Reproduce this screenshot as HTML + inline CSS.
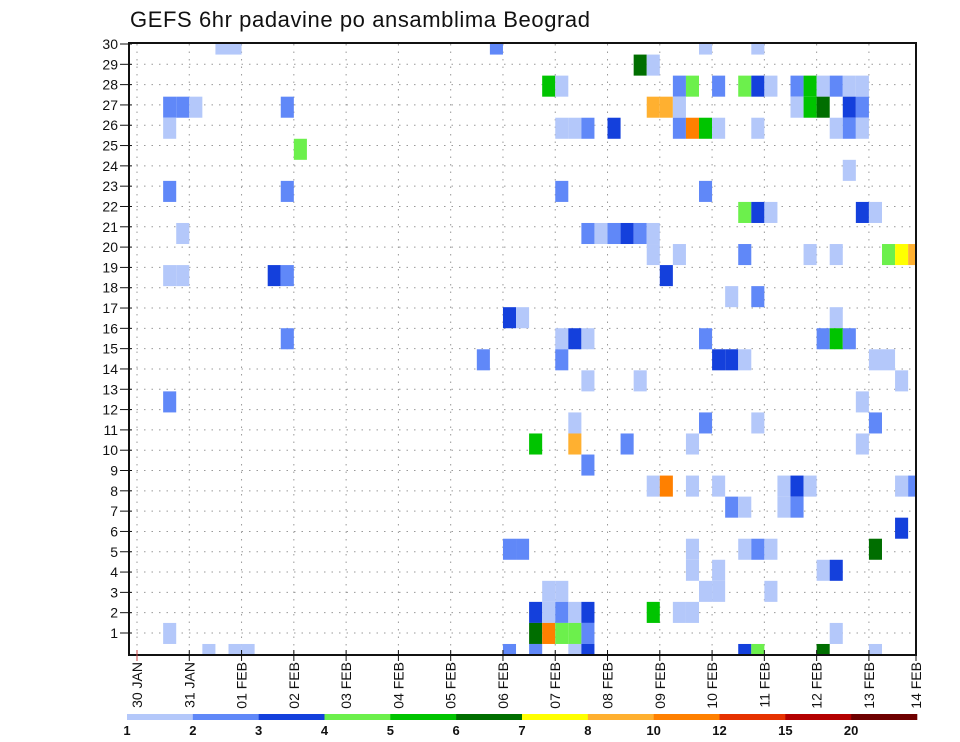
<!DOCTYPE html>
<html><head><meta charset="utf-8">
<style>
html,body{margin:0;padding:0;background:#fff;}
svg{display:block;font-family:"Liberation Sans",sans-serif;}
</style></head>
<body>
<svg id="chart" width="960" height="742" viewBox="0 0 960 742">
<text x="130" y="27" font-size="22" textLength="460" fill="#111">GEFS 6hr padavine po ansamblima Beograd</text>
<clipPath id="plotclip"><rect x="129" y="43" width="787" height="612"/></clipPath>
<g id="grid"></g>
<g id="cells" clip-path="url(#plotclip)"></g>
<rect x="129" y="43" width="787" height="612" fill="none" stroke="#111" stroke-width="2"/>
<g id="yaxis"></g>
<g id="xaxis"></g>
<g id="legend"></g>
</svg>
<script>
// data: 6-hourly step index (0 = 30 JAN 00Z), ensemble member row, precipitation (mm)
const cellStep = [6,7,2,3,4,11,2,12,2,11,3,2,3,10,11,11,2,2,5,7,8,
27,38,39,31,32,39,40,32,33,34,36,32,34,35,36,37,38,39,39,40,28,29,32,33,34,26,32,34,38,33,30,33,37,34,39,40,28,29,31,32,30,31,32,33,34,39,30,31,32,33,34,28,30,33,34,
43,47,41,42,44,46,47,48,50,51,52,53,54,55,41,50,51,52,54,55,41,42,43,44,47,53,54,55,54,43,46,47,48,55,56,41,46,51,53,57,58,59,45,47,53,43,52,53,54,44,45,46,56,57,58,55,43,47,56,42,55,42,44,49,50,51,58,59,45,46,49,50,58,42,46,47,48,56,42,44,52,53,43,44,48,41,42,53,46,47,52,56];
const cellMember = [29,29,26,26,26,26,25,24,22,22,20,18,18,18,18,15,12,1,0,0,0,
29,28,28,27,27,26,26,25,25,25,25,22,20,20,20,20,20,20,19,18,16,16,15,15,15,14,14,13,13,11,10,10,10,9,8,8,5,5,3,3,2,2,2,2,2,2,1,1,1,1,1,0,0,0,0,
29,29,27,27,27,27,27,27,27,27,27,27,27,27,26,26,26,26,26,26,25,25,25,25,25,25,25,25,23,22,21,21,21,21,21,19,19,19,19,19,19,19,17,17,16,15,15,15,15,14,14,14,14,14,13,12,11,11,11,10,10,8,8,8,8,8,8,8,7,7,7,7,6,5,5,5,5,5,4,4,4,4,3,3,3,2,2,1,0,0,0,0];
const cellValue = [1.5,1.5,2.5,2.5,1.5,2.5,1.5,4.5,2.5,2.5,1.5,1.5,1.5,3.5,2.5,2.5,2.5,1.5,1.5,1.5,1.5,
2.5,6.5,1.5,5.5,1.5,9,9,1.5,1.5,2.5,3.5,2.5,2.5,1.5,2.5,3.5,2.5,1.5,1.5,3.5,3.5,1.5,1.5,3.5,1.5,2.5,2.5,1.5,1.5,1.5,5.5,9,2.5,2.5,1.5,11,2.5,2.5,1.5,1.5,3.5,1.5,2.5,1.5,3.5,5.5,6.5,11,4.5,4.5,2.5,2.5,2.5,1.5,3.5,
1.5,1.5,
2.5,4.5,2.5,4.5,3.5,1.5,2.5,5.5,1.5,2.5,1.5,1.5,
1.5,1.5,5.5,6.5,3.5,2.5,
2.5,11,5.5,1.5,1.5,1.5,2.5,1.5,
1.5,
2.5,
4.5,3.5,1.5,3.5,1.5,
1.5,2.5,1.5,1.5,4.5,7.5,9,
1.5,2.5,
1.5,
2.5,2.5,5.5,2.5,
3.5,3.5,1.5,1.5,1.5,
1.5,
1.5,
2.5,1.5,2.5,
1.5,1.5,
1.5,1.5,1.5,3.5,1.5,1.5,2.5,
2.5,1.5,1.5,2.5,
3.5,
1.5,1.5,2.5,1.5,6.5,
1.5,1.5,1.5,3.5,
1.5,1.5,1.5,
1.5,1.5,
1.5,
3.5,4.5,6.5,1.5];
const levels = [1,2,3,4,5,6,7,8,10,12,15,20];
const levelColors = ["#b4c8fa","#6088f8","#1440dc","#6cf04c","#00c400","#006e00","#ffff00","#ffb030","#ff8000","#e63200","#b40000","#6e0000"];
const dayLabels = ["30  JAN","31  JAN","01  FEB","02  FEB","03  FEB","04  FEB","05  FEB","06  FEB","07  FEB","08  FEB","09  FEB","10  FEB","11  FEB","12  FEB","13  FEB","14  FEB"];
const yTicks = [1,2,3,4,5,6,7,8,9,10,11,12,13,14,15,16,17,18,19,20,21,22,23,24,25,26,27,28,29,30];

const NS = "http://www.w3.org/2000/svg";
const X0 = 137, DAY = 52.28;
function xDay(d){ return X0 + d*DAY; }
function xStep(s){ return xDay(s/4); }
const CELLH = 21.05;
function yCell(m){ return 654.5 - m*CELLH; }
function yTick(r){ return 44 + (30-r)*20.31; }
function colorFor(v){ let c=0; for(let k=0;k<levels.length;k++){ if(v>=levels[k]) c=k; } return levelColors[c]; }
function mk(tag, attrs, parent){ const e=document.createElementNS(NS,tag); for(const k in attrs) e.setAttribute(k,attrs[k]); parent.appendChild(e); return e; }

const grid = document.getElementById('grid');
yTicks.forEach(r=>{
  if(r===30) return;
  const l = mk('line',{x1:129,x2:916,y1:yTick(r),y2:yTick(r),stroke:'#999','stroke-width':1,'stroke-dasharray':'1.5,6'},grid);
  
  
});
dayLabels.forEach((t,d)=>{
  const x = xDay(d); if(x>915) return;
  const l = mk('line',{x1:x,x2:x,y1:44,y2:655,stroke:'#999','stroke-width':1,'stroke-dasharray':'1.5,6'},grid);
  
  
});

const cells = document.getElementById('cells');
for(let k=0;k<cellStep.length;k++){
  const x1 = xStep(cellStep[k]), x2 = xStep(cellStep[k]+1);
  const yc = yCell(cellMember[k]);
  const r = mk('rect',{x:x1,y:yc-CELLH/2,width:x2-x1,height:CELLH,fill:colorFor(cellValue[k])},cells);
  
  
}

const yaxis = document.getElementById('yaxis');
yTicks.forEach(r=>{
  const y = yTick(r);
  const tk = mk('line',{x1:120,x2:132,y1:y,y2:y,stroke:'#111','stroke-width':1},yaxis);
  
  
  const t = mk('text',{x:118,y:y+5,'font-size':14,'text-anchor':'end',fill:'#111'},yaxis);
  t.textContent = r;
  
  
});

const xaxis = document.getElementById('xaxis');
dayLabels.forEach((lab,d)=>{
  const x = Math.min(xDay(d), 916);
  const tk = mk('line',{x1:x,x2:x,y1:650,y2:661,stroke:d===0?'#c44':'#111','stroke-width':1},xaxis);
  
  
  const t = mk('text',{x:0,y:0,'font-size':14,'text-anchor':'end',fill:'#111',transform:'translate('+(x+5)+',662) rotate(-90)'},xaxis);
  t.setAttribute('xml:space','preserve');
  t.textContent = lab;
  
  
});

const legend = document.getElementById('legend');
const LX0 = 127, LW = (917-127)/levels.length;
levelColors.forEach((c,k)=>{
  const r = mk('rect',{x:LX0+k*LW,y:714,width:LW+0.3,height:6,fill:c},legend);
  
  
});
levels.forEach((v,k)=>{
  const t = mk('text',{x:LX0+k*LW,y:735,'font-size':13,'font-weight':'bold','text-anchor':'middle',fill:'#111'},legend);
  t.textContent = v;
  
  
});
</script>
</body></html>
